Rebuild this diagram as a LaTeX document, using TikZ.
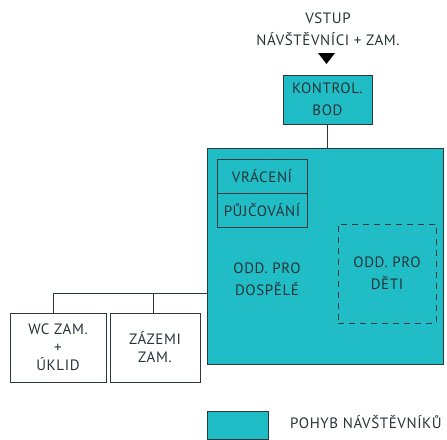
\documentclass[tikz,border=0pt]{standalone}
\usepackage{fontspec}
\setmainfont{PT Sans}[LetterSpace=4]
\definecolor{teal1}{HTML}{21BDC6}
\definecolor{txt}{HTML}{263437}
\definecolor{edge}{HTML}{2A3A3A}
\begin{document}
\begin{tikzpicture}[x=1pt,y=-1pt,
  every node/.style={font=\fontsize{15}{22}\selectfont, text=txt, align=center},
  tight/.style={font=\fontsize{15}{18}\selectfont},
  box/.style={draw=edge, line width=0.8pt},
  wire/.style={draw=edge, line width=0.7pt}]
\useasboundingbox (0,0) rectangle (447,439);
\node (vstup) at (328,29) {VSTUP\\NÁVŠTĚVNÍCI + ZAM.};
\fill[black] (318,53) -- (335,53) -- (326.5,64) -- cycle;
\node[box, fill=teal1, minimum width=89pt, minimum height=49pt, inner sep=0pt] (kb) at (327.5,99.5) {KONTROL.\\BOD};
\node[box, fill=teal1, minimum width=236pt, minimum height=216pt, inner sep=0pt] (big) at (325,256) {};
\node[box, minimum width=90pt, minimum height=34pt, inner sep=0pt] (vr) at (262,176) {VRÁCENÍ};
\node[box, minimum width=90pt, minimum height=34pt, inner sep=0pt] (pu) at (262,210) {PŮJČOVÁNÍ};
\node[draw=edge, line width=0.8pt, dash pattern=on 6pt off 5pt, minimum width=98pt, minimum height=99pt, inner sep=0pt] (deti) at (387,273.5) {ODD. PRO\\DĚTI};
\node (dosp) at (267,279) {ODD. PRO\\DOSPĚLÉ};
\node[box, tight, minimum width=96pt, minimum height=69pt, inner sep=0pt] (wc) at (58,347.5) {WC ZAM.\\+\\ÚKLID};
\node[box, tight, minimum width=90pt, minimum height=69pt, inner sep=0pt] (zaz) at (155,347.5) {ZÁZEMI\\ZAM.};
\draw[wire] (kb.south) -- (big.north -| kb.south);
\coordinate (j) at (153,293);
\draw[wire] (big.west |- j) -- (53,293) -- (53,313);
\draw[wire] (j) -- (zaz.north -| j);
\node[box, fill=teal1, minimum width=61pt, minimum height=28pt, inner sep=0pt] (leg) at (237.5,425) {};
\node[anchor=west, inner sep=0pt] (legt) at (290,422) {POHYB NÁVŠTĚVNÍKŮ};
\end{tikzpicture}
\end{document}
